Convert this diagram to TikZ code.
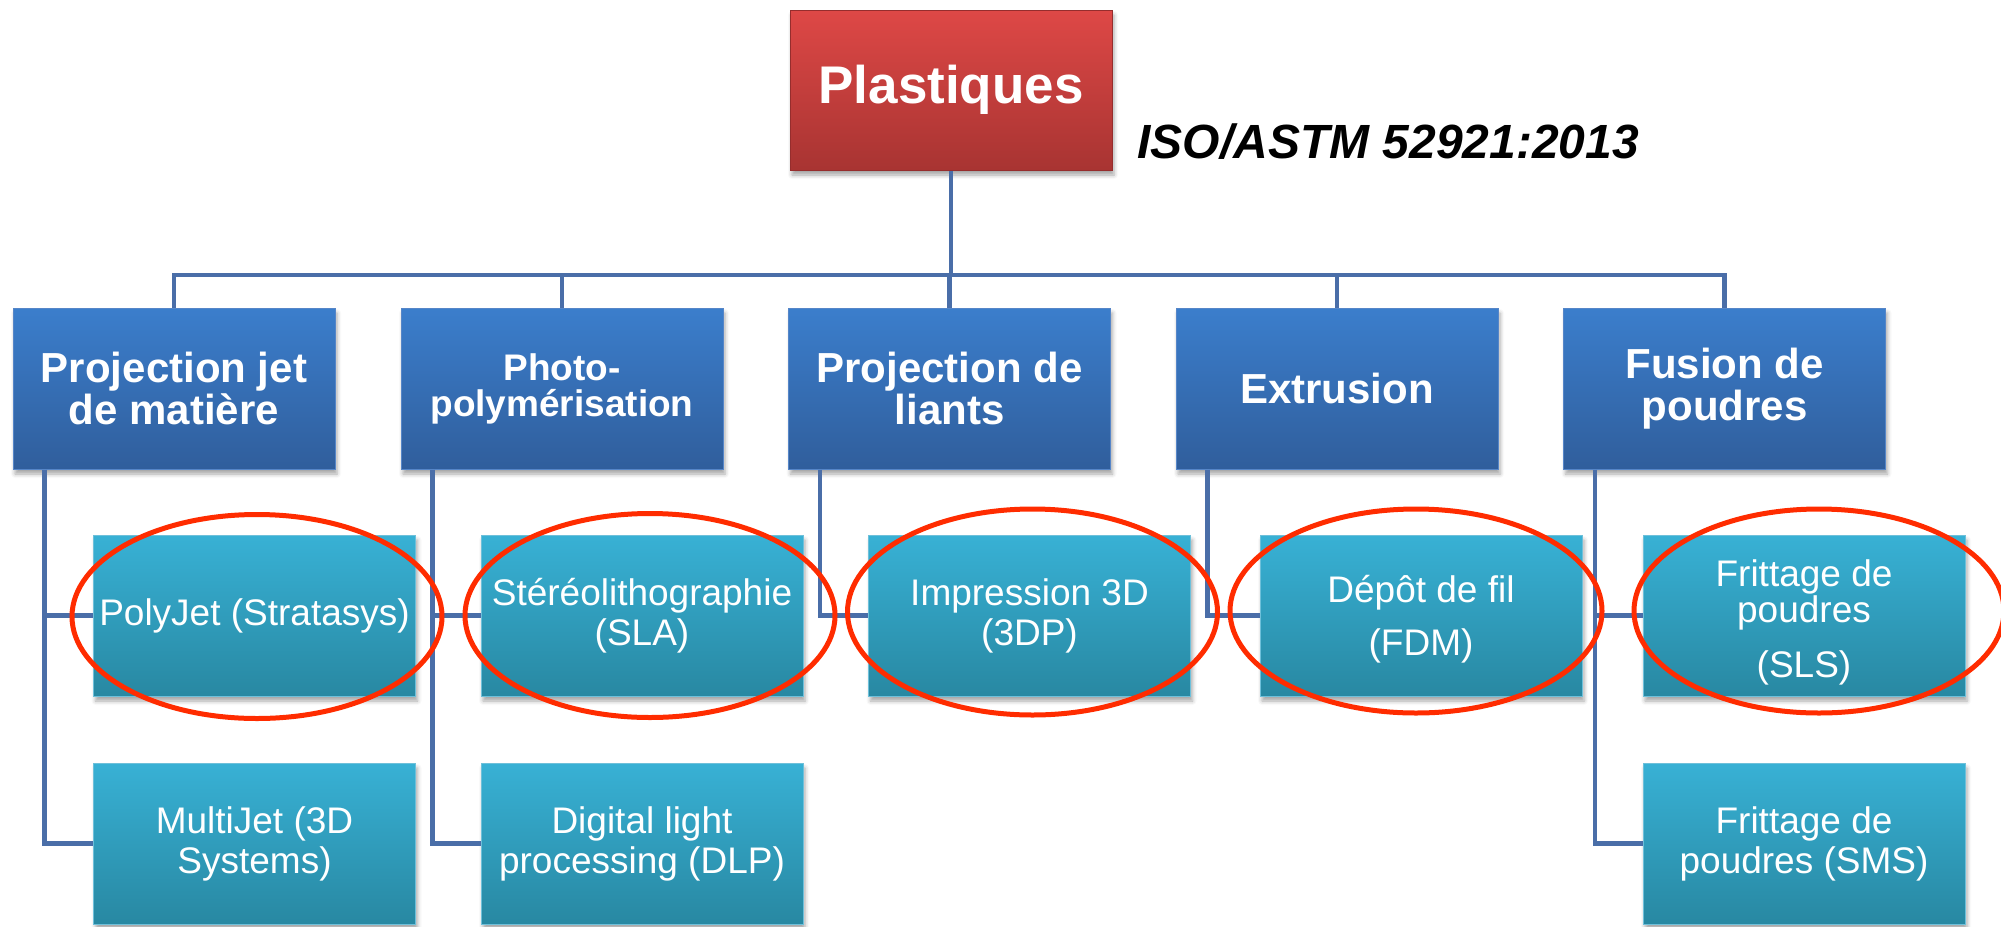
\documentclass[tikz,border=0pt]{standalone}
\usepackage{fontspec}
\setmainfont{Liberation Sans}
\usetikzlibrary{shadows.blur}

\definecolor{connblue}{RGB}{74,110,168}
\definecolor{ovalred}{RGB}{255,44,0}
\definecolor{redtop}{RGB}{222,72,70}
\definecolor{redbot}{RGB}{168,52,50}
\definecolor{rededge}{RGB}{150,45,45}
\definecolor{bluetop}{RGB}{59,126,204}
\definecolor{bluebot}{RGB}{48,94,156}
\definecolor{blueedge}{RGB}{86,134,200}
\definecolor{tealtop}{RGB}{56,177,213}
\definecolor{tealbot}{RGB}{40,136,162}
\definecolor{tealedge}{RGB}{110,192,218}

\begin{document}
\begin{tikzpicture}[x=1pt,y=-1pt,
  conn/.style={draw=connblue,line width=4.5pt},
  oval/.style={draw=ovalred,line width=5pt},
  boxshadow/.style={blur shadow={shadow xshift=2pt,shadow yshift=-5pt,shadow blur radius=4pt,shadow opacity=35}},
  basebox/.style={rectangle,inner sep=0pt,minimum width=322pt,minimum height=161pt,
    text=white,align=center,line width=1pt,boxshadow},
  rootbox/.style={basebox,minimum height=160pt,top color=redtop,bottom color=redbot,draw=rededge,
    font=\bfseries\fontsize{53}{58}\selectfont},
  catbox/.style={basebox,top color=bluetop,bottom color=bluebot,draw=blueedge,
    font=\bfseries\fontsize{42}{42}\selectfont},
  procbox/.style={basebox,top color=tealtop,bottom color=tealbot,draw=tealedge,
    font=\fontsize{37}{40}\selectfont},
  proctext/.style={inner sep=0pt,text=white,align=center,font=\fontsize{37}{40}\selectfont}
]
\useasboundingbox (0,0) rectangle (2001,926);

% root
\node[rootbox] (root) at (951,90) {Plastiques};
\node[anchor=base west,font=\bfseries\itshape\fontsize{48}{50}\selectfont] (iso) at (1134,158) {ISO/ASTM 52921:2013};

% process categories
\node[catbox] (c1) at (174,388.5) {Projection jet\\de matière};
\node[catbox,font=\bfseries\fontsize{37}{36}\selectfont] (c2) at (562,388.5) {Photo-\\polymérisation};
\node[catbox] (c3) at (949.5,388.5) {Projection de\\liants};
\node[catbox] (c4) at (1337,388.5) {Extrusion};
\node[catbox] (c5) at (1724.5,388.5) {Fusion de\\poudres};

% technologies
\node[procbox] (t1) at (254.5,615.5) {PolyJet (Stratasys)};
\node[procbox] (t2) at (642,615.5) {Stéréolithographie\\(SLA)};
\node[procbox] (t3) at (1029.5,615.5) {Impression 3D\\(3DP)};
\node[procbox] (t4) at (1421,615.5) {};
\node[proctext] (t4text) at (1421,619) {Dépôt de fil\\[13pt](FDM)};
\node[procbox] (t5) at (1804,615.5) {};
\node[proctext] (t5text) at (1804,622.5) {Frittage de\\[-4pt]poudres\\[15pt](SLS)};
\node[procbox] (u1) at (254.5,843.5) {MultiJet (3D\\Systems)};
\node[procbox] (u2) at (642,843.5) {Digital light\\processing (DLP)};
\node[procbox] (u5) at (1804,843.5) {Frittage de\\poudres (SMS)};

% tree connectors
\coordinate (bus) at (951,275);
\draw[conn] (root.south) -- (bus);
\draw[conn] (c1.north) |- (bus) -| (c5.north);
\foreach \c in {c2,c3,c4}{
  \draw[conn] (\c.north) -- (\c.north |- bus);
}
\coordinate (d1) at ([xshift=32pt]c1.south west);
\coordinate (d2) at ([xshift=32pt]c2.south west);
\coordinate (d3) at ([xshift=32pt]c3.south west);
\coordinate (d4) at ([xshift=32pt]c4.south west);
\coordinate (d5) at ([xshift=32pt]c5.south west);
\draw[conn] (d1) |- (u1.west);
\draw[conn] (d1 |- t1.west) -- (t1.west);
\draw[conn] (d2) |- (u2.west);
\draw[conn] (d2 |- t2.west) -- (t2.west);
\draw[conn] (d3) |- (t3.west);
\draw[conn] (d4) |- (t4.west);
\draw[conn] (d5) |- (u5.west);
\draw[conn] (d5 |- t5.west) -- (t5.west);

% highlight ovals
\draw[oval] (257,616.5) ellipse [x radius=185,y radius=102];
\draw[oval] (650,615.5) ellipse [x radius=185,y radius=102];
\draw[oval] (1032.5,612) ellipse [x radius=185,y radius=103];
\draw[oval] (1416,611) ellipse [x radius=186,y radius=102];
\draw[oval] (1819,611) ellipse [x radius=185,y radius=102];
\end{tikzpicture}
\end{document}
